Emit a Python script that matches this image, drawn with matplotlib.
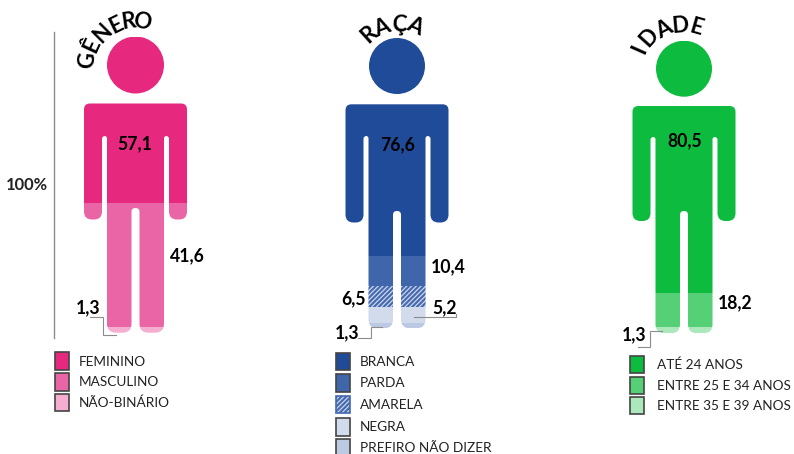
import numpy as np
import matplotlib
matplotlib.use('Agg')
import matplotlib.pyplot as plt
from matplotlib.path import Path
from matplotlib.patches import Rectangle

plt.rcParams['font.family'] = ['Lato', 'DejaVu Sans']
plt.rcParams['hatch.linewidth'] = 1.5

# categories and labelled values
genero_cats = ['FEMININO', 'MASCULINO', 'NÃO-BINÁRIO']
genero_vals = ['57,1', '41,6', '1,3']
raca_cats = ['BRANCA', 'PARDA', 'AMARELA', 'NEGRA', 'PREFIRO NÃO DIZER']
raca_vals = ['76,6', '10,4', '6,5', '5,2', '1,3']
idade_cats = ['ATÉ 24 ANOS', 'ENTRE 25 E 34 ANOS', 'ENTRE 35 E 39 ANOS']
idade_vals = ['80,5', '18,2', '1,3']

# height of each band as drawn on the figure, in % of the body
# (the original pictogram is not exactly to scale with its labels)
genero_bands = [56.3, 41.7, 2.0]
raca_bands = [75.1, 10.3, 7.1, 5.7, 1.8]
idade_bands = [86.1, 11.6, 2.3]

genero_colors = ['#E6287F', '#E965A5', '#F5AED0']
raca_colors = ['#1F4B99', '#3F66AB', '#C9D5EC', '#D2DBEC', '#BCC9E2']
idade_colors = ['#0DBB3F', '#55D077', '#ABE9BD']

W, H = 794, 454
fig = plt.figure(figsize=(W / 100, H / 100), dpi=100)
ax = fig.add_axes([0, 0, 1, 1], zorder=2)
ax.set_xlim(0, W)
ax.set_ylim(H, 0)
ax.axis('off')


# polygon with rounded corners, pts are (x, y, radius)
def rounded_poly(pts):
    verts, codes = [], []
    n = len(pts)
    for i in range(n):
        p = np.array(pts[i][:2], float)
        a = np.array(pts[i - 1][:2], float)
        b = np.array(pts[(i + 1) % n][:2], float)
        r = pts[i][2]
        p1 = p + (a - p) / np.linalg.norm(a - p) * r
        p2 = p + (b - p) / np.linalg.norm(b - p) * r
        verts.append(p1)
        codes.append(Path.MOVETO if i == 0 else Path.LINETO)
        verts += [p, p2]
        codes += [Path.CURVE3, Path.CURVE3]
    verts.append(verts[0])
    codes.append(Path.CLOSEPOLY)
    return Path(verts, codes)


def person_path(cx, head_y, r, top, arm_bot, gap_top, crotch, foot):
    pts = [(cx - 51.5, top, 6), (cx + 51.5, top, 6),
           (cx + 51.5, arm_bot, 8), (cx + 33.5, arm_bot, 8),
           (cx + 33.5, gap_top, 2.9), (cx + 28.5, gap_top, 2.4),
           (cx + 28.5, foot, 9), (cx + 4, foot, 9),
           (cx + 4, crotch, 3.9), (cx - 4, crotch, 3.9),
           (cx - 4, foot, 9), (cx - 28.5, foot, 9),
           (cx - 28.5, gap_top, 2.4), (cx - 33.5, gap_top, 2.9),
           (cx - 33.5, arm_bot, 8), (cx - 51.5, arm_bot, 8)]
    body = rounded_poly(pts)
    head = Path.circle((cx, head_y), r)
    return Path.make_compound_path(body, head)


def draw_person(cx, head_y, r, top, arm_bot, gap_top, crotch, foot, bands, colors, hatch_idx=None):
    clip = person_path(cx, head_y, r, top, arm_bot, gap_top, crotch, foot)
    y0 = head_y - r
    # stacked bar on its own 0-100 axis, clipped to the person shape
    a = fig.add_axes([(cx - 60) / W, 1 - foot / H, 120 / W, (foot - y0) / H], zorder=1)
    a.set_xlim(0, 1)
    a.set_ylim(100, 0)
    a.axis('off')
    bottom = 0
    for i, (b, c) in enumerate(zip(bands, colors)):
        bar = a.bar(0.5, b, bottom=bottom, width=1, color=c, linewidth=0)[0]
        if i == hatch_idx:
            bar.set_hatch('///////')
            bar.set_edgecolor('#4469AE')
        bar.set_clip_path(clip, ax.transData)
        bottom += b


def legend(x, text_x, tops, bottoms, cats, colors, edge, hatch_idx=None):
    for i, cat in enumerate(cats):
        rect = Rectangle((x, tops[i]), 14, bottoms[i] - tops[i], facecolor=colors[i],
                         edgecolor=edge, linewidth=1.2)
        ax.add_patch(rect)
        if i == hatch_idx:
            rect.set_hatch('///////')
            rect.set_edgecolor('#4469AE')
        ax.text(text_x, (tops[i] + bottoms[i]) / 2 + 0.5, cat, fontsize=9.85, color='#222222',
                va='center', ha='left')


def curved_title(title, cx, cy, radius, angles, size=16):
    for ch, ang, rad in zip(title, angles, radius):
        t = np.radians(ang)
        ax.text(cx + rad * np.sin(t), cy - rad * np.cos(t), ch, rotation=-ang,
                rotation_mode='anchor', ha='center', va='center', fontsize=size,
                fontweight='bold', color='black')


def val(x, y, s):
    ax.text(x, y, s, fontsize=12.7, fontweight='bold', color='black', ha='center', va='center')


def leader(xs, ys):
    ax.plot(xs, ys, color='#8C8C8C', lw=0.8, solid_joinstyle='miter')


draw_person(135.5, 65, 28.5, 103.5, 219.5, 136, 208, 332.7, genero_bands, genero_colors)
draw_person(397, 66, 28, 104.3, 222.5, 136, 211, 328.3, raca_bands, raca_colors, hatch_idx=2)
draw_person(684, 68.7, 28, 106, 221, 137, 211, 333.3, idade_bands, idade_colors)

# 100% line
ax.plot([53.5, 53.5], [32, 338], color='#8C8C8C', lw=1)
ax.text(27, 185, '100%', fontsize=11.9, fontweight='bold', color='#222222', ha='center', va='center')

curved_title('GÊNERO', 135, 65, [48, 47, 45, 44, 44, 44], [-84, -65, -45, -26, -8, 9])
curved_title('RAÇA', 397, 66, [42, 41, 41, 44], [-42, -21, 3, 24])
curved_title('IDADE', 684, 69, [49, 47, 44, 43, 43], [-66, -48, -27, -5, 16])

val(135, 144, genero_vals[0])
val(187, 256, genero_vals[1])
val(88, 308, genero_vals[2])
val(398, 145, raca_vals[0])
val(448, 267, raca_vals[1])
val(354, 299, raca_vals[2])
val(445, 308, raca_vals[3])
val(347, 333, raca_vals[4])
val(685, 141, idade_vals[0])
val(735, 303, idade_vals[1])
val(634, 335, idade_vals[2])

leader([90, 103, 103, 116], [317, 317, 335, 335])
leader([414, 456, 456], [316.5, 316.5, 314])
leader([358, 371, 371, 382], [337.5, 337.5, 327, 327])
leader([638, 650, 650, 662], [347, 347, 331, 331])

legend(55, 79, [352, 373, 393.5], [370, 390.5, 410.5], genero_cats, genero_colors, '#444444')
legend(336, 360, [353, 373.5, 396, 418, 439], [370, 391.5, 412.5, 435.5, 456], raca_cats, raca_colors,
       '#444444', hatch_idx=2)
legend(630, 657, [356, 377, 397], [373, 394, 414], idade_cats, idade_colors, '#444444')

fig.savefig('out.png', dpi=100, facecolor='white')
